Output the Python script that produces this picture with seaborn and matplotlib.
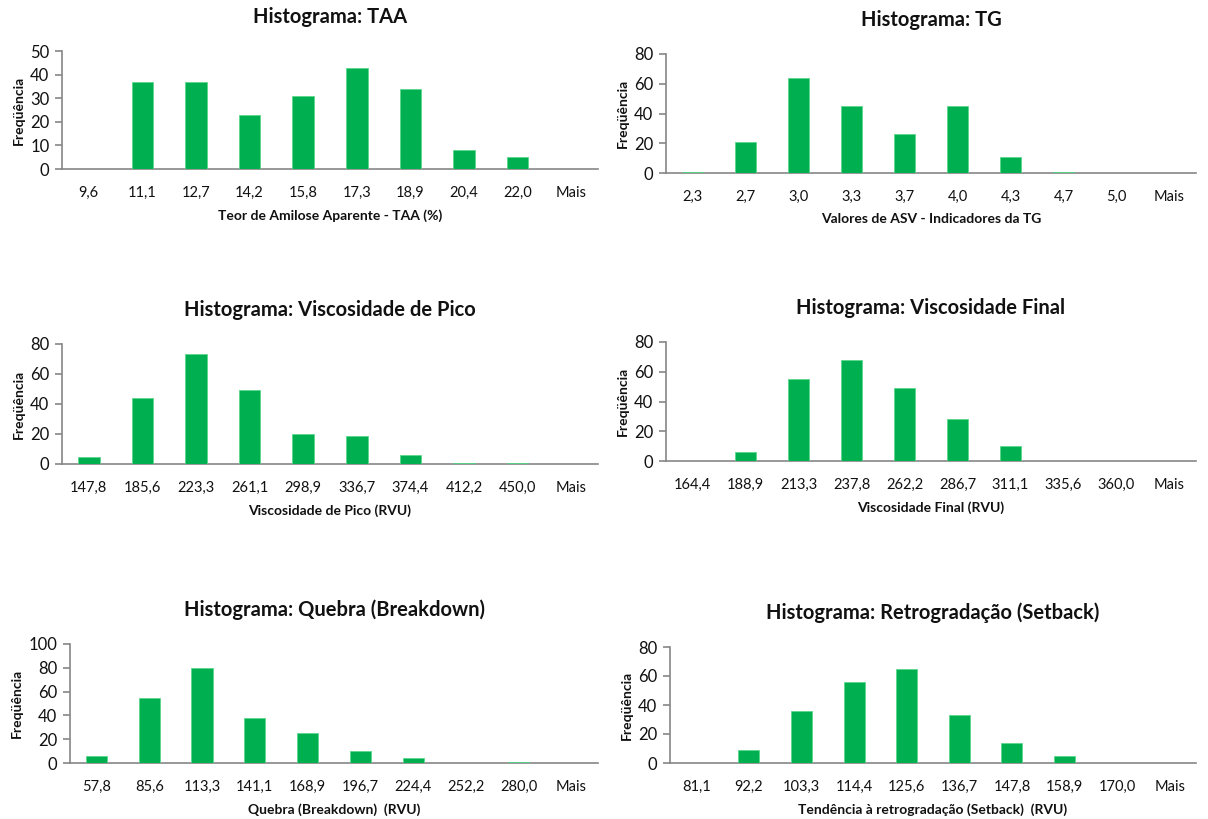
import matplotlib
matplotlib.use("Agg")
import matplotlib.pyplot as plt
import seaborn as sns
import pandas as pd

sns.set_theme(style="white")
plt.rcParams["font.family"] = ["Lato", "DejaVu Sans"]

# Bin labels and frequencies for each histogram
taa_bins = ["9,6", "11,1", "12,7", "14,2", "15,8", "17,3", "18,9", "20,4", "22,0", "Mais"]
taa_freq = [0, 37, 37, 23, 31, 43, 34, 8, 5, 0]

tg_bins = ["2,3", "2,7", "3,0", "3,3", "3,7", "4,0", "4,3", "4,7", "5,0", "Mais"]
tg_freq = [1, 21, 64, 45, 26, 45, 11, 1, 0, 0]

pico_bins = ["147,8", "185,6", "223,3", "261,1", "298,9", "336,7", "374,4", "412,2", "450,0", "Mais"]
pico_freq = [5, 44, 73, 49, 20, 19, 6, 1, 1, 0]

final_bins = ["164,4", "188,9", "213,3", "237,8", "262,2", "286,7", "311,1", "335,6", "360,0", "Mais"]
final_freq = [0, 6, 55, 68, 49, 28, 10, 0, 0, 0]

quebra_bins = ["57,8", "85,6", "113,3", "141,1", "168,9", "196,7", "224,4", "252,2", "280,0", "Mais"]
quebra_freq = [6, 55, 80, 38, 25, 10, 4, 0, 1, 0]

setback_bins = ["81,1", "92,2", "103,3", "114,4", "125,6", "136,7", "147,8", "158,9", "170,0", "Mais"]
setback_freq = [0, 9, 36, 56, 65, 33, 14, 5, 0, 0]

titles = [
    "Histograma: TAA",
    "Histograma: TG",
    "Histograma: Viscosidade de Pico",
    "Histograma: Viscosidade Final",
    "Histograma: Quebra (Breakdown)",
    "Histograma: Retrogradação (Setback)",
]
xlabels = [
    "Teor de Amilose Aparente - TAA (%)",
    "Valores de ASV - Indicadores da TG",
    "Viscosidade de Pico (RVU)",
    "Viscosidade Final (RVU)",
    "Quebra (Breakdown)  (RVU)",
    "Tendência à retrogradação (Setback)  (RVU)",
]
ymax = [50, 80, 80, 80, 100, 80]
ystep = [10, 20, 20, 20, 20, 20]

panels = [
    (taa_bins, taa_freq),
    (tg_bins, tg_freq),
    (pico_bins, pico_freq),
    (final_bins, final_freq),
    (quebra_bins, quebra_freq),
    (setback_bins, setback_freq),
]

W, H = 1208, 819
# axes boxes in pixels: left, top, right, bottom
boxes = [
    (62, 51, 598, 169),
    (666, 54, 1196, 173),
    (62, 344, 598, 464),
    (666, 342, 1196, 461),
    (70, 644, 598, 763),
    (670, 647, 1196, 763),
]

GREEN = "#00B050"
AXIS = "#868686"
TEXT = "#111111"

fig = plt.figure(figsize=(W / 100, H / 100), dpi=100)

for i, ((bins, freq), box) in enumerate(zip(panels, boxes)):
    l, t, r, b = box
    ax = fig.add_axes([l / W, 1 - b / H, (r - l) / W, (b - t) / H])
    df = pd.DataFrame({"bin": bins, "freq": freq})
    sns.barplot(data=df, x="bin", y="freq", order=bins, color=GREEN,
                width=0.4, saturation=1, edgecolor="#5CD68A", linewidth=0.6,
                zorder=3, ax=ax)
    ax.set_xlim(-0.5, len(bins) - 0.5)
    ax.set_ylim(0, ymax[i])
    ax.set_yticks(range(0, ymax[i] + 1, ystep[i]))
    for s in ["top", "right"]:
        ax.spines[s].set_visible(False)
    for s in ["left", "bottom"]:
        ax.spines[s].set_color(AXIS)
        ax.spines[s].set_linewidth(1.2)
        ax.spines[s].set_zorder(2)
    ax.set_xticks([k - 0.5 for k in range(len(bins) + 1)], minor=True)
    ax.tick_params(axis="x", which="minor", length=5, color=AXIS, width=1.2, direction="out")
    ax.tick_params(axis="x", which="major", length=0, pad=12, labelsize=10.5, labelcolor=TEXT)
    ax.tick_params(axis="y", which="major", length=5, color=AXIS, width=1.2, direction="out",
                   labelsize=12, pad=4, left=True, labelcolor=TEXT)
    ax.set_xlabel(xlabels[i], fontsize=10, fontweight="bold", labelpad=7, color=TEXT)
    ax.set_ylabel("Freqüência", fontsize=10, fontweight="bold", labelpad=4, color=TEXT)
    ax.set_title(titles[i], fontsize=14.5, fontweight="bold", pad=20, color=TEXT)
    ax.grid(False)

fig.savefig("out.png", dpi=100)
